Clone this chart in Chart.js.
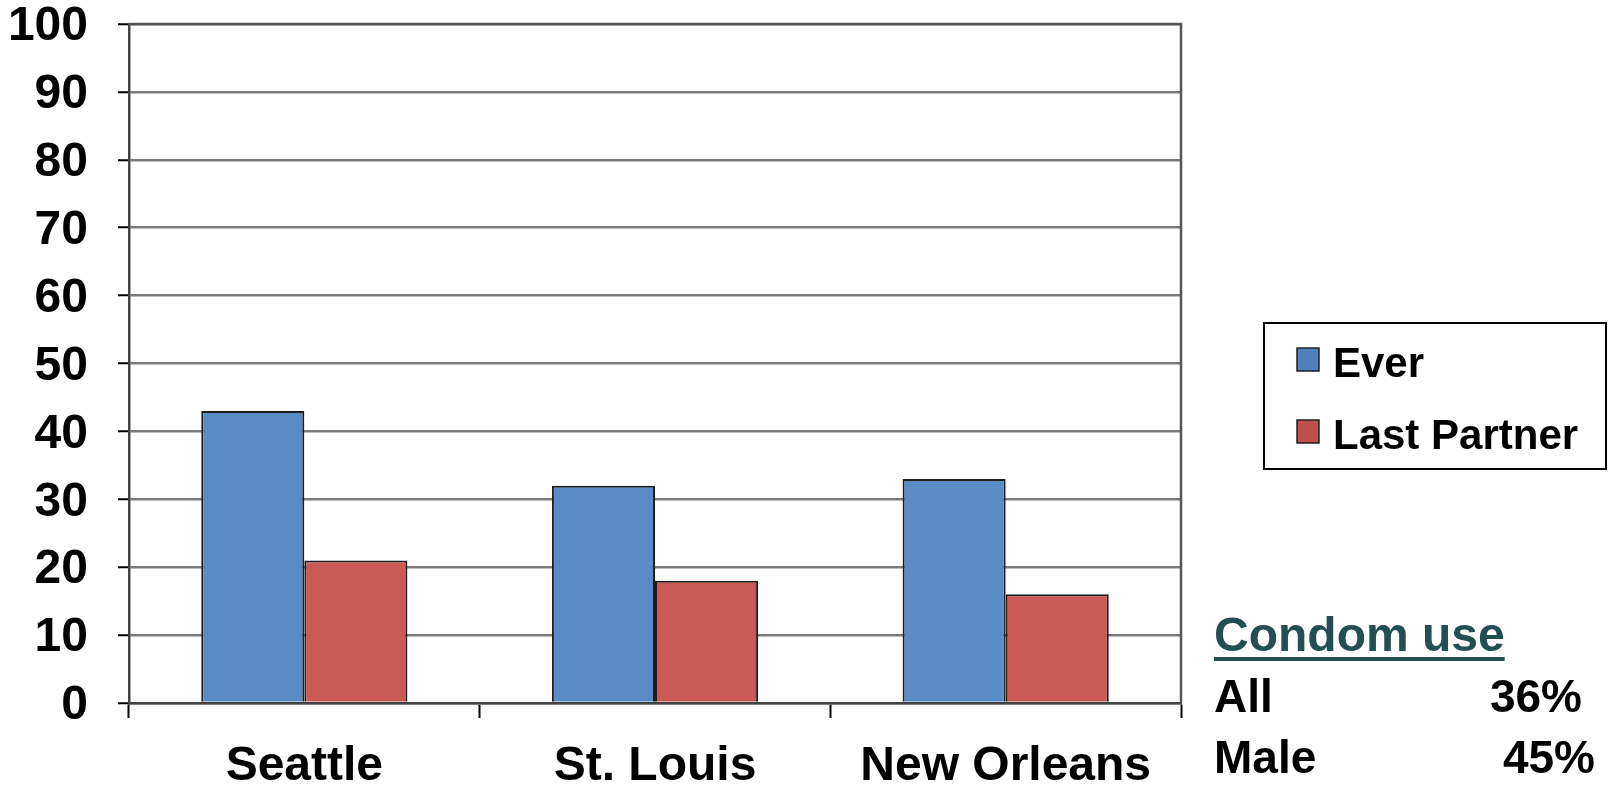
<!DOCTYPE html>
<html>
<head>
<meta charset="utf-8">
<script src="https://cdn.jsdelivr.net/npm/chart.js@4.4.1/dist/chart.umd.min.js"></script>
<style>
  body { margin: 0; background: #fff; }
  #wrap { position: relative; width: 1609px; height: 791px; }
  .note { position: absolute; font-family: "Liberation Sans", Arial, sans-serif; font-weight: bold; white-space: nowrap; }
</style>
</head>
<body>
<div id="wrap">
  <canvas id="condomChart"></canvas>
  <div class="note" id="note-title" style="left:1214px; top:611px; font-size:48px; line-height:48px; color:#234e52; text-decoration:underline; text-decoration-thickness:4px; text-underline-offset:6px;">Condom use</div>
  <div class="note" style="left:1214px; top:673px; font-size:46px; line-height:46px;">All</div>
  <div class="note" style="right:27px; top:673px; font-size:46px; line-height:46px; text-align:right;">36%</div>
  <div class="note" style="left:1214px; top:734px; font-size:46px; line-height:46px;">Male</div>
  <div class="note" style="right:14px; top:734px; font-size:46px; line-height:46px; text-align:right;">45%</div>
</div>
<script>
// chart values
const cities = ['Seattle', 'St. Louis', 'New Orleans'];
const everValues = [43, 32, 33];
const lastPartnerValues = [21, 18, 16];
const seriesNames = ['Ever', 'Last Partner'];

const FONT = '"Liberation Sans", Arial, sans-serif';

// right/top frame line around the plot
const framePlugin = {
  id: 'frame',
  afterDraw(chart) {
    const { ctx, chartArea: a } = chart;
    ctx.save();
    ctx.strokeStyle = '#555';
    ctx.lineWidth = 2.5;
    ctx.beginPath();
    ctx.moveTo(a.left, a.top);
    ctx.lineTo(a.right, a.top);
    ctx.lineTo(a.right, a.bottom);
    ctx.stroke();
    ctx.restore();
  }
};

// boxed legend on the right, built from the datasets
const boxLegend = {
  id: 'boxLegend',
  afterDraw(chart) {
    const ctx = chart.ctx;
    ctx.save();
    ctx.strokeStyle = '#000';
    ctx.lineWidth = 2;
    ctx.strokeRect(1264, 323, 342, 146);
    ctx.font = 'bold 42px ' + FONT;
    ctx.textBaseline = 'alphabetic';
    const baselines = [377, 449];
    chart.data.datasets.forEach((ds, i) => {
      const b = baselines[i];
      ctx.fillStyle = ds.legendColor;
      ctx.fillRect(1297, b - 29, 22, 23);
      ctx.strokeStyle = '#222';
      ctx.lineWidth = 1.5;
      ctx.strokeRect(1297, b - 29, 22, 23);
      ctx.fillStyle = '#000';
      ctx.fillText(ds.label, 1333, b);
    });
    ctx.restore();
  }
};

const ctxCondom = document.getElementById('condomChart').getContext('2d');

const condomChart = new Chart(ctxCondom, {
  type: 'bar',
  data: {
    labels: cities,
    datasets: [{
      label: seriesNames[0],
      data: everValues,
      backgroundColor: '#598bc7',
      legendColor: '#4f81bd',
      borderColor: '#1e1e1e',
      borderWidth: 2,
      categoryPercentage: 0.588,
      barPercentage: 1.0,
    }, {
      label: seriesNames[1],
      data: lastPartnerValues,
      backgroundColor: '#cb5a56',
      legendColor: '#c0504d',
      borderColor: '#1e1e1e',
      borderWidth: 2,
      categoryPercentage: 0.588,
      barPercentage: 1.0,
    }]
  },
  options: {
    responsive: true,
    maintainAspectRatio: false,
    animation: false,
    layout: { padding: { top: 24, right: 428, bottom: 0, left: 0 } },
    plugins: {
      legend: { display: false },
      tooltip: { enabled: false },
    },
    scales: {
      x: {
        grid: {
          drawOnChartArea: false,
          tickLength: 15,
          tickColor: '#000',
          tickWidth: 2,
        },
        border: { color: '#444', width: 2.5 },
        ticks: {
          color: '#000',
          padding: 20,
          font: { family: FONT, size: 48, weight: 'bold' },
        },
        afterFit(scale) {
          scale.height = 88;
          scale.paddingLeft = 0;
          scale.paddingRight = 0;
        }
      },
      y: {
        min: 0,
        max: 100,
        ticks: {
          stepSize: 10,
          color: '#000',
          padding: 30,
          labelOffset: 3,
          font: { family: FONT, size: 48, weight: 'bold' },
        },
        grid: {
          color: '#7a7a7a',
          lineWidth: 2.5,
          tickColor: '#000',
          tickLength: 11,
          tickWidth: 2,
        },
        border: { color: '#444', width: 2.5 },
        afterFit(scale) {
          scale.width = 129;
          scale.paddingTop = 0;
          scale.paddingBottom = 0;
        }
      }
    }
  },
  plugins: [framePlugin, boxLegend]
});
</script>
</body>
</html>
